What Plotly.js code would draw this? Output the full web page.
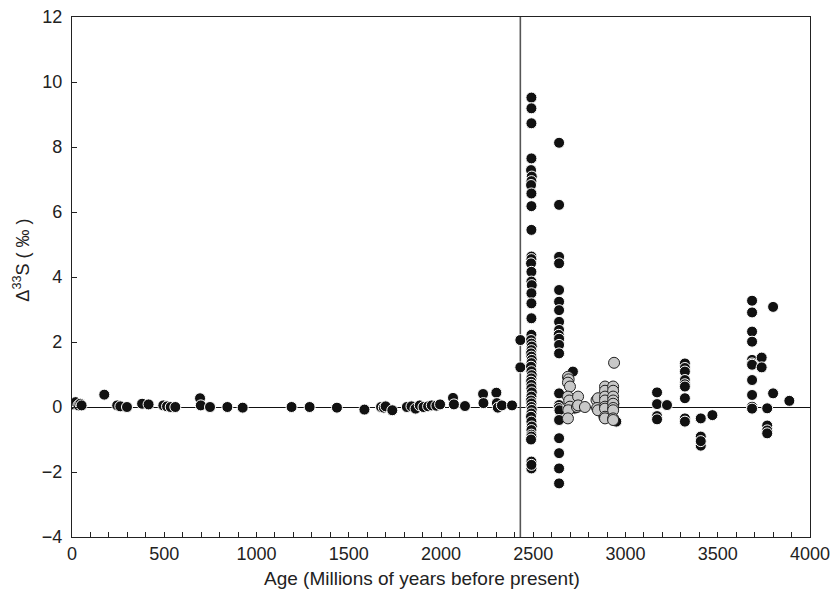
<!DOCTYPE html>
<html>
<head>
<meta charset="utf-8">
<script src="https://cdn.plot.ly/plotly-3.0.1.min.js"></script>
<style>html,body{margin:0;padding:0;background:#fff;}#chart{width:830px;height:594px;}</style>
</head>
<body>
<div id="chart"></div>
<script>
// Black symbols: age (Ma) and Δ33S (‰)
const blackAge = [
  5, 20, 35, 45, 52, 175, 245, 262, 298, 380, 415, 495, 515, 535, 560,
  694, 698, 748, 842, 925, 1190, 1288, 1436, 1585, 1675, 1690, 1700, 1736,
  1815, 1840, 1862, 1885, 1905, 1930, 1950, 1975, 1995, 2065, 2070, 2130,
  2228, 2230, 2300, 2303, 2308, 2330, 2385, 2430, 2430,
  2490, 2490, 2490, 2490, 2488, 2492, 2490, 2488, 2490, 2490, 2490, 2490,
  2490, 2488, 2490, 2490, 2492, 2490, 2490, 2490, 2490, 2488, 2490, 2492,
  2490, 2488, 2490, 2492, 2490, 2488, 2490, 2492, 2490, 2488, 2490, 2490,
  2492, 2490, 2488, 2490, 2490, 2492, 2490, 2488, 2490, 2492, 2490, 2490,
  2490, 2488, 2490, 2490, 2490,
  2640, 2640, 2640, 2640, 2640, 2640, 2640, 2640, 2640, 2638, 2640, 2640,
  2640, 2640, 2640, 2638, 2642, 2640, 2640, 2640, 2640, 2640,
  2715, 2705, 2725, 2690, 2880, 2900, 2950, 2940,
  3171, 3171, 3225, 3171, 3171,
  3322, 3322, 3322, 3322, 3322, 3322, 3322, 3322, 3322,
  3408, 3408, 3408, 3408, 3471,
  3686, 3686, 3686, 3686, 3686, 3686, 3686, 3686, 3686, 3686, 3686,
  3738, 3738, 3800, 3800, 3768, 3768, 3768, 3768, 3888
];
const blackD33S = [
  0.08, 0.15, 0.05, 0.1, 0.05, 0.38, 0.05, 0.02, 0.0, 0.1, 0.08, 0.05, 0.02, 0.0, 0.0,
  0.27, 0.05, 0.0, 0.0, -0.02, 0.0, 0.0, -0.02, -0.08, 0.0, -0.02, 0.02, -0.1,
  0.0, 0.02, -0.05, 0.05, 0.0, 0.02, 0.05, 0.04, 0.08, 0.28, 0.08, 0.03,
  0.4, 0.12, 0.44, 0.12, -0.02, 0.05, 0.05, 2.06, 1.22,
  9.52, 9.19, 8.73, 7.65, 7.29, 7.09, 6.95, 6.83, 6.57, 6.18, 5.45, 4.63,
  4.55, 4.42, 4.16, 3.86, 3.75, 3.5, 3.19, 2.73, 2.22, 2.06, 1.95, 1.86,
  1.75, 1.65, 1.55, 1.45, 1.35, 1.24, 1.1, 0.98, 0.88, 0.78, 0.68, 0.57,
  0.45, 0.32, 0.2, 0.11, 0.0, -0.09, -0.2, -0.3, -0.45, -0.6, -0.71, -0.85,
  -0.91, -1.0, -1.68, -1.89, -1.78,
  8.13, 6.22, 4.62, 4.42, 3.6, 3.24, 2.98, 2.62, 2.37, 2.22, 2.1, 1.91,
  1.65, 0.42, 0.06, -0.03, -0.1, -0.4, -0.96, -1.42, -1.89, -2.35,
  1.09, 0.15, -0.05, -0.05, -0.3, 0.0, -0.45, 0.1,
  0.45, 0.09, 0.06, -0.28, -0.38,
  1.34, 1.2, 1.09, 0.83, 0.7, 0.63, 0.27, -0.35, -0.45,
  -0.35, -0.91, -1.19, -1.05, -0.25,
  3.27, 2.91, 2.32, 2.01, 1.45, 1.34, 1.3, 0.83, 0.37, 0.01, -0.05,
  1.52, 1.22, 3.08, 0.42, -0.04, -0.57, -0.72, -0.81, 0.19
];
// Grey symbols
const greyAge = [
  2688, 2692, 2688, 2699, 2688, 2695, 2699, 2690, 2688,
  2743, 2737, 2743, 2780,
  2843, 2851, 2846, 2851,
  2889, 2889, 2889, 2889, 2889, 2889, 2889, 2889,
  2933, 2933, 2933, 2933, 2933, 2933, 2933, 2933, 2933, 2938
];
const greyD33S = [
  0.93, 0.85, 0.75, 0.63, 0.32, 0.2, 0.01, -0.1, -0.35,
  0.32, 0.0, 0.05, 0.0,
  0.21, 0.27, -0.03, -0.1,
  0.63, 0.5, 0.32, 0.2, 0.01, -0.05, -0.3, -0.35,
  0.63, 0.5, 0.32, 0.2, 0.1, -0.03, -0.1, -0.35, -0.4, 1.36
];
// Reference lines
const boundaryAge = [2430, 2430];
const boundaryY = [-4, 12];
// Axis labels
const xTickVals = [0, 500, 1000, 1500, 2000, 2500, 3000, 3500, 4000];
const yTickVals = [-4, -2, 0, 2, 4, 6, 8, 10, 12];
const yTickText = ['\u22124', '\u22122', '0', '2', '4', '6', '8', '10', '12'];
const xTitle = 'Age (Millions of years before present)';
const yTitle = '\u0394<sup>33</sup>S ( \u2030 )';

const fontFam = '"Liberation Sans", Arial, Helvetica, sans-serif';
const ink = '#222';

const traces = [
  {x: boundaryAge, y: boundaryY, mode: 'lines', type: 'scatter',
   line: {color: '#555', width: 1.6}, hoverinfo: 'skip', showlegend: false},
  {x: blackAge, y: blackD33S, mode: 'markers', type: 'scatter',
   marker: {color: '#111', size: 11, line: {color: '#fff', width: 1}}, showlegend: false},
  {x: greyAge, y: greyD33S, mode: 'markers', type: 'scatter',
   marker: {color: '#c8c8c8', size: 11, line: {color: '#222', width: 1}}, showlegend: false}
];

const layout = {
  width: 830, height: 594,
  margin: {l: 72, r: 20, t: 17, b: 57},
  paper_bgcolor: '#fff', plot_bgcolor: '#fff',
  font: {family: fontFam, size: 18, color: ink},
  showlegend: false,
  xaxis: {
    range: [0, 4000], tickvals: xTickVals,
    ticks: 'inside', ticklen: 5, tickcolor: ink, tickwidth: 1,
    minor: {dtick: 100, ticks: 'inside', ticklen: 5, tickcolor: ink, tickwidth: 1},
    showline: true, linecolor: ink, linewidth: 1.2, mirror: true,
    showgrid: false, zeroline: false, ticklabeloverflow: 'allow',
    tickfont: {size: 18, family: fontFam, color: ink}
  },
  yaxis: {
    range: [-4, 12], tickvals: yTickVals, ticktext: yTickText,
    ticks: 'inside', ticklen: 5, tickcolor: ink, tickwidth: 1,
    showline: true, linecolor: ink, linewidth: 1.2, mirror: true,
    showgrid: false, zeroline: true, zerolinecolor: '#111', zerolinewidth: 1,
    ticklabelstandoff: 5,
    tickfont: {size: 18, family: fontFam, color: ink}
  },
  annotations: [
    {text: xTitle, xref: 'paper', yref: 'paper', x: 0.474, y: -0.079,
     xanchor: 'center', yanchor: 'middle', showarrow: false,
     font: {size: 19, family: fontFam, color: ink}},
    {text: yTitle, xref: 'paper', yref: 'paper', x: -0.068, y: 0.533,
     xanchor: 'center', yanchor: 'middle', textangle: -90, showarrow: false,
     font: {size: 18, family: fontFam, color: ink}}
  ]
};

Plotly.newPlot('chart', traces, layout, {staticPlot: true, displayModeBar: false});
</script>
</body>
</html>
